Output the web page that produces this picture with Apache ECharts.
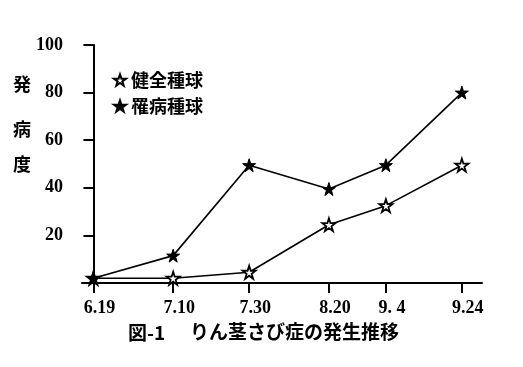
<!DOCTYPE html>
<html><head><meta charset="utf-8">
<script src="https://cdn.jsdelivr.net/npm/echarts@6/dist/echarts.min.js"></script>
<style>html,body{margin:0;padding:0;background:#fff}#c{width:523px;height:367px}</style>
</head><body><div id="c"></div>
<script>
// Dates (label) and day offsets from 6.19
const dateLabels = ['6.19', '7.10', '7.30', '8.20', '9. 4', '9.24'];
const dayOffsets = [0, 21, 41, 62, 77, 97];
// 発病度
const healthyValues = [2, 2, 4.5, 24.5, 32.5, 49.5];
const diseasedValues = [2, 11.5, 49.5, 39.5, 49.5, 80];
const yTicks = [20, 40, 60, 80, 100];
const seriesNames = ['健全種球', '罹病種球'];
const yTitleChars = ['発', '病', '度'];
const figNumber = '図-1';
const figTitle = 'りん茎さび症の発生推移';

const STAR = 'path://M50,0 L61.8,35.4 L99,35.4 L69,57.3 L80.3,92.7 L50,70.8 L19.7,92.7 L31,57.3 L1,35.4 L38.2,35.4 Z';
const numFont = {fontFamily: 'Liberation Serif', fontWeight: 'bold', fontSize: 18, color: '#000'};
const cjk = '"Noto Sans CJK JP"';

const chart = echarts.init(document.getElementById('c'), null, {renderer: 'canvas'});
const mk = (vals) => dayOffsets.map((d, i) => [d, vals[i]]);
const labelMap = {};
dayOffsets.forEach((d, i) => labelMap[d] = dateLabels[i]);

chart.setOption({
  animation: false,
  backgroundColor: '#fff',
  grid: {left: 82, right: 41, top: 45, bottom: 84, containLabel: false},
  legend: {
    orient: 'vertical', left: 108, top: 66, itemGap: 8, itemWidth: 12, itemHeight: 12,
    data: seriesNames.map(n => ({name: n, icon: STAR})),
    textStyle: {fontFamily: cjk, fontWeight: 'bold', fontSize: 18, color: '#000'}
  },
  xAxis: {
    type: 'value', min: -3, max: 102.3,
    splitLine: {show: false},
    axisLine: {lineStyle: {color: '#000', width: 2}},
    axisTick: {show: true, customValues: dayOffsets, length: 10, lineStyle: {color: '#000', width: 2}},
    axisLabel: Object.assign({customValues: dayOffsets, margin: 16, padding: [0, 0, 0, 12], formatter: v => labelMap[v] || ''}, numFont)
  },
  yAxis: {
    type: 'value', min: 0, max: 100, interval: 20,
    splitLine: {show: false},
    axisLine: {show: true, lineStyle: {color: '#000', width: 2}},
    axisTick: {show: true, length: 10, lineStyle: {color: '#000', width: 2}},
    axisLabel: Object.assign({margin: 19, showMinLabel: false, formatter: v => yTicks.includes(v) ? String(v) : ''}, numFont)
  },
  series: [
    {
      name: seriesNames[0], type: 'line', data: mk(healthyValues),
      symbol: STAR, symbolSize: 13,
      lineStyle: {color: '#000', width: 1.6},
      itemStyle: {color: '#fff', borderColor: '#000', borderWidth: 1.8},
      z: 3
    },
    {
      name: seriesNames[1], type: 'line', data: mk(diseasedValues),
      symbol: STAR, symbolSize: 13,
      lineStyle: {color: '#000', width: 1.6},
      itemStyle: {color: '#000', borderColor: '#000', borderWidth: 1},
      z: 4
    }
  ],
  graphic: [
    ...yTitleChars.map((ch, i) => ({
      type: 'text', left: 13, top: 75 + [0, 45, 80][i],
      style: {text: ch, font: 'bold 18px ' + cjk, fill: '#000'}
    })),
    {type: 'text', left: 128, top: 323, style: {text: figNumber, font: 'bold 19px ' + cjk, fill: '#000'}},
    {type: 'text', left: 190, top: 322, style: {text: figTitle, font: 'bold 19px ' + cjk, fill: '#000'}}
  ]
});
</script></body></html>
